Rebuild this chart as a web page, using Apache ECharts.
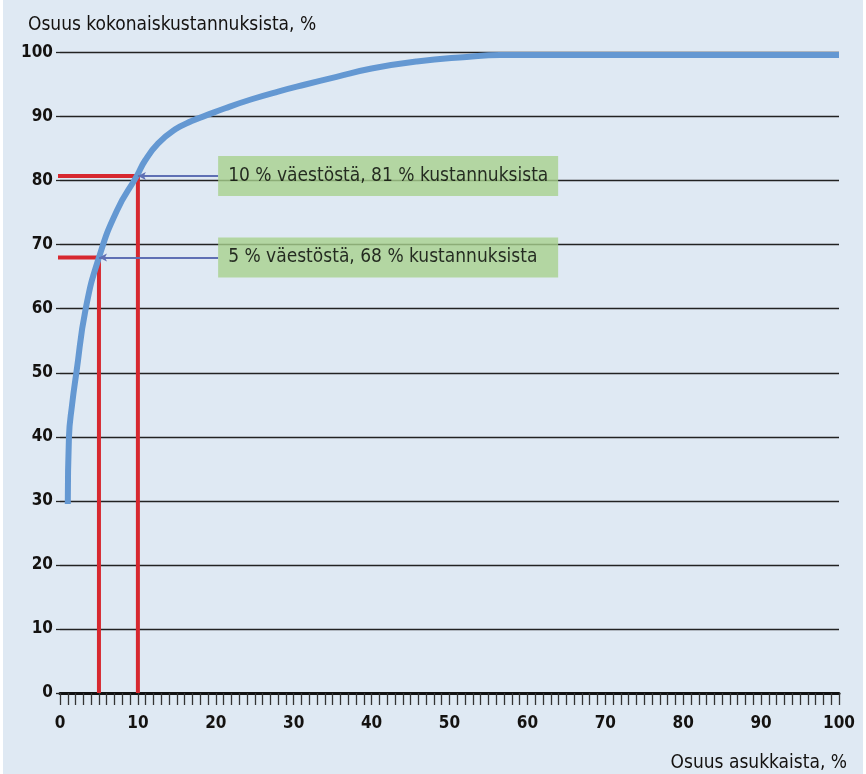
<!DOCTYPE html>
<html>
<head>
<meta charset="utf-8">
<script src="https://cdn.jsdelivr.net/npm/echarts@6/dist/echarts.min.js"></script>
<style>
  html, body { margin: 0; padding: 0; background: #ffffff; }
  #chart { position: absolute; left: 3px; top: 0; width: 860px; height: 774px; }
</style>
</head>
<body>
<div id="chart"></div>
<script>
// ---- data ----
const curveX = [1, 1.15, 1.55, 2.1, 3.3, 5, 7.3, 9.85, 10.9, 12.6, 14.8, 16.9, 18.6, 21.2, 24.6, 28, 31.5, 35.5, 40, 45.8, 52.2, 56.5, 70, 85, 100];
const curveY = [29.5, 40, 45, 50, 60, 68, 75.3, 80.7, 83.1, 85.8, 88.0, 89.3, 90.1, 91.3, 92.7, 93.9, 95.0, 96.2, 97.5, 98.6, 99.3, 99.6, 99.6, 99.6, 99.6];
const markerX = [5, 10];
const markerY = [68, 80.7];
const markerText = ['5 % väestöstä, 68 % kustannuksista', '10 % väestöstä, 81 % kustannuksista'];
const boxX = 20.3;
const yTicks = [0, 10, 20, 30, 40, 50, 60, 70, 80, 90, 100];
const xTicks = [0, 10, 20, 30, 40, 50, 60, 70, 80, 90, 100];
const yTitle = 'Osuus kokonaiskustannuksista, %';
const xTitle = 'Osuus asukkaista, %';

const FONT = "'Liberation Sans Narrow', 'DejaVu Sans Condensed', 'Roboto Condensed', sans-serif";
const TXT = '#141210';

const curveData = curveX.map((x, i) => [x, curveY[i]]);

const redSeries = markerX.map((x, i) => ({
  type: 'line',
  data: [[-0.6, markerY[i]], [x, markerY[i]], [x, 0]],
  showSymbol: false,
  symbol: 'none',
  clip: false,
  lineStyle: { color: '#d7282f', width: 4 },
  z: 3,
  silent: true
}));

const boxSeries = {
  type: 'scatter',
  symbolSize: 0,
  data: markerX.map((x, i) => ({
    value: [boxX, markerY[i]],
    label: { formatter: markerText[i] }
  })),
  label: {
    show: true,
    position: 'right',
    distance: 0,
    fontFamily: FONT,
    fontSize: 19,
    color: '#000',
    backgroundColor: '#a8d18d',
    padding: [10, 10, 10, 10],
    width: 320,
    lineHeight: 20
  },
  z: 6,
  silent: true
};

const arrowSeries = {
  type: 'line',
  data: [],
  markLine: {
    silent: true,
    symbol: ['none', 'arrow'],
    symbolSize: [6, 8],
    label: { show: false },
    lineStyle: { color: '#5f70b4', width: 2, type: 'solid' },
    data: markerX.map((x, i) => [
      { coord: [boxX, markerY[i]] },
      { coord: [x, markerY[i]] }
    ])
  },
  z: 5
};

const option = {
  backgroundColor: '#dfe9f3',
  animation: false,
  grid: { left: 57, right: 24, top: 52.5, bottom: 81, containLabel: false },
  title: {
    text: yTitle,
    left: 20, top: 11,
    textStyle: { fontFamily: FONT, fontSize: 19, fontWeight: 'normal', color: TXT }
  },
  xAxis: {
    type: 'value',
    min: 0, max: 100, interval: 10,
    name: xTitle,
    nameLocation: 'end',
    nameGap: 0,
    nameTextStyle: {
      fontFamily: FONT, fontSize: 19, color: TXT,
      align: 'right', verticalAlign: 'top', padding: [61, -8, 0, 0]
    },
    axisLine: { show: true, onZero: false, lineStyle: { color: '#111', width: 3 } },
    axisTick: { show: true, length: 12, lineStyle: { color: '#333', width: 1.3 } },
    minorTick: { show: true, splitNumber: 10, length: 12, lineStyle: { color: '#333', width: 1.3 } },
    splitLine: { show: false },
    axisLabel: {
      fontFamily: FONT, fontSize: 17, fontWeight: 'bold', color: TXT, margin: 22,
      formatter: v => xTicks.includes(v) ? String(v) : ''
    }
  },
  yAxis: {
    type: 'value',
    min: 0, max: 100, interval: 10,
    axisLine: { show: false },
    axisTick: { show: true, length: 4, lineStyle: { color: '#222', width: 1.3 } },
    splitLine: { show: true, lineStyle: { color: '#222', width: 1.3 } },
    axisLabel: {
      fontFamily: FONT, fontSize: 17, fontWeight: 'bold', color: TXT, margin: 7,
      padding: [3, 0, 0, 0],
      formatter: v => yTicks.includes(v) ? String(v) : ''
    }
  },
  series: [
    ...redSeries,
    {
      type: 'line',
      data: curveData,
      smooth: 0.5,
      showSymbol: false,
      symbol: 'none',
      lineStyle: { color: '#6498d2', width: 6, cap: 'butt' },
      z: 4,
      silent: true
    },
    arrowSeries,
    boxSeries
  ]
};

const chart = echarts.init(document.getElementById('chart'), null, { renderer: 'canvas' });
chart.setOption(option);
</script>
</body>
</html>
